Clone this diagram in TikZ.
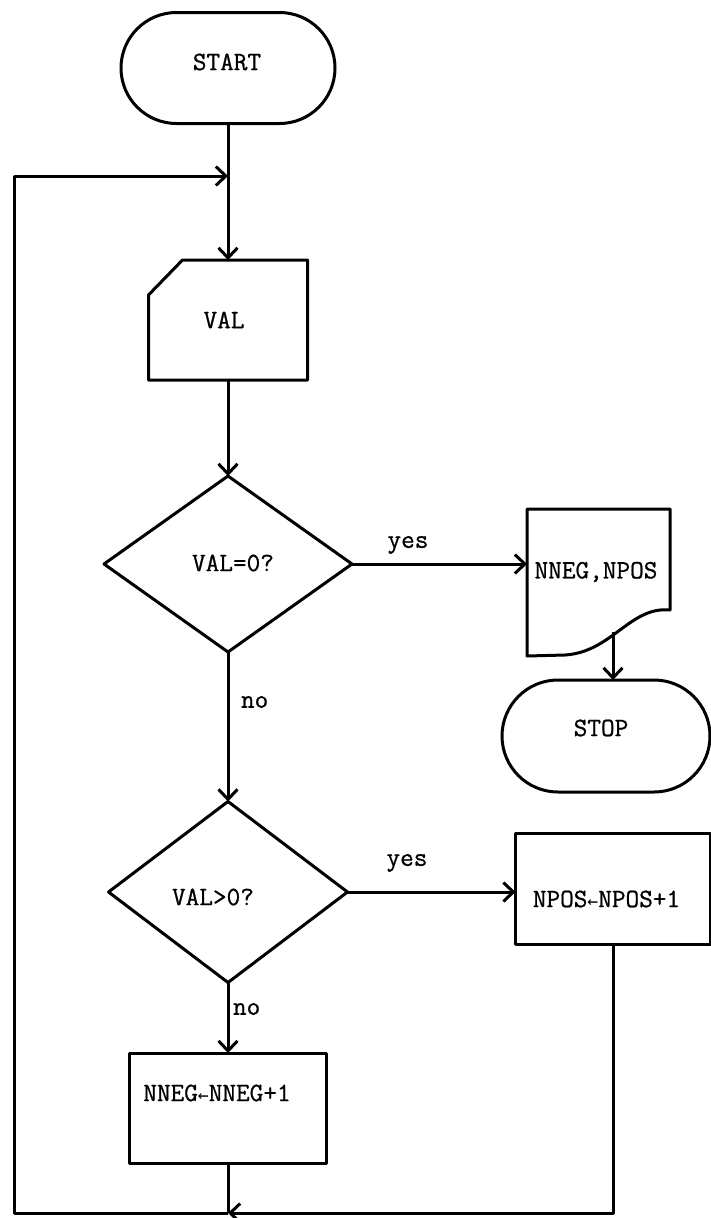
\documentclass[tikz,border=0pt]{standalone}
\usepackage{fontspec}
\newfontfamily\twfont{Latin Modern Mono}[FakeBold=0.8]
\newfontfamily\arrfont{DejaVu Sans Mono}
\usetikzlibrary{shapes.geometric,shapes.misc,arrows.meta}
\newcommand{\tw}[1]{#1}
\newcommand{\lar}{{\arrfont\fontsize{18}{20}\selectfont ←}}
\begin{document}
\begin{tikzpicture}[x=1pt,y=-1pt, line width=3pt, line join=round,
  every node/.style={inner sep=0pt, outer sep=0pt},
  txt/.style={font=\fontsize{26.5}{30}\selectfont\twfont},
  term/.style={rounded rectangle, draw},
  dec/.style={diamond, draw},
  proc/.style={rectangle, draw},
  ghost/.style={rectangle, draw=none},
  arr/.style={-{Straight Barb[length=10pt,width=19pt]}}]
\useasboundingbox (0,0) rectangle (711,1218);

% nodes
\node[term, minimum width=214pt, minimum height=111pt] (start) at (228,68) {};
\node[txt] (startt) at (227,62) {\tw{START}};

\node[ghost, minimum width=159pt, minimum height=120pt] (val) at (228,320) {};
\draw (val.north east) -- (val.south east) -- (val.south west)
      -- ([yshift=-35pt]val.north west) -- ([xshift=34pt]val.north west) -- cycle;
\node[txt] (valt) at (224,320) {\tw{VAL}};

\node[dec, minimum width=248pt, minimum height=176pt] (d1) at (228,564) {};
\node[txt] (d1t) at (233,563) {\tw{VAL=0?}};

\node[ghost, minimum width=143pt, minimum height=146pt] (doc) at (598.5,582) {};
\draw (527,656) -- (527,509) -- (670,509) -- (670,610)
      .. controls (630,606) and (612,652) .. (565,655) -- cycle;
\node[txt] (doct) at (596,572) {\tw{NNEG,NPOS}};

\node[term, minimum width=208pt, minimum height=112pt] (stop) at (606,736) {};
\node[txt] (stopt) at (601,728) {\tw{STOP}};

\node[dec, minimum width=239pt, minimum height=181pt] (d2) at (228,892) {};
\node[txt] (d2t) at (213,897) {\tw{VAL>0?}};

\node[proc, minimum width=195pt, minimum height=111pt] (npos) at (613,888.5) {};
\node[txt] (npost) at (606.5,899) {\tw{NPOS\lar NPOS+1}};

\node[proc, minimum width=197pt, minimum height=110pt] (nneg) at (228,1108) {};
\node[txt] (nnegt) at (217,1093) {\tw{NNEG\lar NNEG+1}};

% labels
\node[txt] (y1) at (408,545) {\tw{yes}};
\node[txt] (y2) at (407,863) {\tw{yes}};
\node[txt, anchor=west] (n1) at (241,702) {\tw{no}};
\node[txt, anchor=west] (n2) at (233,1009) {\tw{no}};

% coordinates
\coordinate (j1) at (228,176);
\coordinate (jb) at (228,1213);
\coordinate (cl) at (14,1213);
\coordinate (ct) at (14,176);
\coordinate (docb) at (613,632);

% connectors
\draw[arr] (start.south) -- (val.north);
\draw[arr] (val.south) -- (d1.north);
\draw[arr] (d1.east) -- (d1.east -| doc.west);
\draw[arr] (docb) -- (docb |- stop.north);
\draw[arr] (d1.south) -- (d2.north);
\draw[arr] (d2.east) -- (d2.east -| npos.west);
\draw[arr] (d2.south) -- (nneg.north);
\draw (nneg.south) -- (jb);
\draw[arr] (npos.south) |- (jb);
\draw[arr] (jb) -- (cl) -- (ct) -- (j1);
\end{tikzpicture}
\end{document}
